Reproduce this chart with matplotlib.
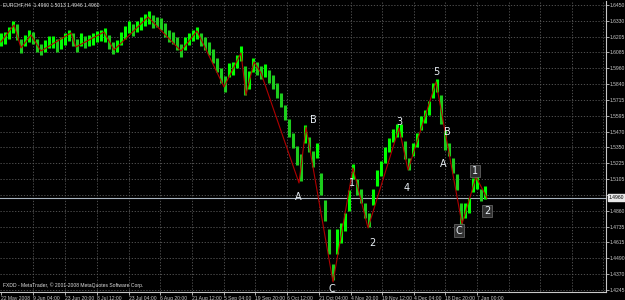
import matplotlib
matplotlib.use("Agg")
import matplotlib.pyplot as plt
import numpy as np

# ---- data (EURCHF H4, one bar group every 4 px) ----
highs = [1.623, 1.624, 1.628, 1.633, 1.630, 1.619, 1.622, 1.626, 1.624, 1.619,
         1.615, 1.618, 1.621, 1.621, 1.619, 1.620, 1.623, 1.626, 1.623, 1.619,
         1.623, 1.621, 1.622, 1.623, 1.625, 1.626, 1.627, 1.622, 1.616, 1.618,
         1.624, 1.629, 1.633, 1.630, 1.633, 1.636, 1.638, 1.640, 1.637, 1.636,
         1.635, 1.631, 1.626, 1.624, 1.620, 1.615, 1.620, 1.623, 1.626, 1.628,
         1.623, 1.620, 1.616, 1.611, 1.604, 1.596, 1.590, 1.600, 1.601, 1.606,
         1.613, 1.598, 1.594, 1.604, 1.601, 1.598, 1.599, 1.595, 1.591, 1.585,
         1.577, 1.568, 1.557, 1.546, 1.536, 1.530, 1.552, 1.543, 1.532, 1.538,
         1.515, 1.494, 1.472, 1.445, 1.472, 1.476, 1.484, 1.502, 1.522, 1.510,
         1.503, 1.492, 1.484, 1.503, 1.517, 1.524, 1.535, 1.542, 1.549, 1.553,
         1.553, 1.540, 1.527, 1.538, 1.546, 1.559, 1.564, 1.571, 1.585, 1.588,
         1.575, 1.548, 1.538, 1.527, 1.514, 1.492, 1.492, 1.496, 1.511, 1.513,
         1.503, 1.505]
lows = [1.613, 1.615, 1.619, 1.623, 1.618, 1.608, 1.613, 1.616, 1.615, 1.609,
        1.606, 1.609, 1.612, 1.612, 1.609, 1.611, 1.614, 1.617, 1.613, 1.609,
        1.613, 1.612, 1.613, 1.614, 1.616, 1.617, 1.616, 1.611, 1.607, 1.609,
        1.614, 1.619, 1.623, 1.621, 1.624, 1.626, 1.629, 1.630, 1.627, 1.628,
        1.626, 1.620, 1.616, 1.615, 1.610, 1.605, 1.610, 1.614, 1.617, 1.619,
        1.613, 1.610, 1.606, 1.600, 1.593, 1.585, 1.578, 1.589, 1.591, 1.596,
        1.602, 1.575, 1.580, 1.593, 1.591, 1.588, 1.589, 1.585, 1.580, 1.573,
        1.566, 1.556, 1.543, 1.534, 1.521, 1.509, 1.538, 1.531, 1.520, 1.527,
        1.498, 1.478, 1.452, 1.432, 1.452, 1.461, 1.470, 1.486, 1.510, 1.498,
        1.492, 1.480, 1.473, 1.490, 1.505, 1.513, 1.523, 1.531, 1.539, 1.543,
        1.543, 1.526, 1.517, 1.528, 1.535, 1.548, 1.554, 1.560, 1.573, 1.578,
        1.553, 1.533, 1.528, 1.515, 1.502, 1.475, 1.480, 1.484, 1.500, 1.503,
        1.493, 1.495]

# zigzag pivots (bar index, price)
zz_idx = [0, 3.25, 5, 7.5, 10, 17.5, 18.75, 25.75, 28.25, 36.75, 45, 49, 55.75,
          60, 61.25, 63.25, 65, 74.5, 76.25, 83, 88, 91.75, 99.5, 101.75,
          108.75, 115.25, 118.75, 121.5]
zz_price = [1.6164, 1.6296, 1.6118, 1.6218, 1.6094, 1.6234, 1.6125, 1.6241,
            1.6102, 1.6357, 1.6094, 1.6249, 1.5816, 1.6079, 1.5754, 1.6009,
            1.5924, 1.5073, 1.5506, 1.4307, 1.5189, 1.4725, 1.5499, 1.5174,
            1.5855, 1.4756, 1.5120, 1.4957]

# wave labels
wave_text = ["B", "A", "1", "2", "C", "3", "4", "5", "B", "A", "C", "1", "2"]
wave_idx = [78, 74.25, 87.75, 92.75, 82.75, 99.5, 101.5, 108.75, 111.5, 110.5,
            114.5, 118.5, 121.5]
wave_price = [1.5560, 1.4965, 1.5073, 1.4609, 1.4250, 1.5545, 1.5034, 1.5932,
              1.5468, 1.5220, 1.4702, 1.5166, 1.4856]
wave_boxed = [False] * 10 + [True, True, True]

price_ticks = [1.6450, 1.6330, 1.6205, 1.6085, 1.5960, 1.5840, 1.5715, 1.5595,
               1.5470, 1.5350, 1.5225, 1.5105, 1.4980, 1.4860, 1.4735, 1.4615,
               1.4490, 1.4370, 1.4245]
time_labels = ["22 May 2008", "9 Jun 04:00", "23 Jun 20:00", "8 Jul 12:00",
               "23 Jul 04:00", "6 Aug 20:00", "21 Aug 12:00", "5 Sep 04:00",
               "19 Sep 20:00", "6 Oct 12:00", "21 Oct 04:00", "4 Nov 20:00",
               "19 Nov 12:00", "4 Dec 04:00", "18 Dec 20:00", "7 Jan 00:00"]
time_pos = [0, 8, 16, 24, 32, 39.8, 47.8, 55.8, 63.6, 71.6, 79.6, 87.4, 95.3,
            103.2, 111.1, 119.0]
extra_grid = [126.9, 134.8, 142.7, 150.6]

symbol = "EURCHF,H4"
ohlc_text = "1.4960 1.5013 1.4946 1.4960"
last_price = 1.4960
footer = "FXDD - MetaTrader, \u00a9 2001-2008 MetaQuotes Software Corp."

FONT = "Liberation Sans"
FS = 3.6

# ---- figure ----
W, H = 625, 300
fig = plt.figure(figsize=(W / 100, H / 100), dpi=100, facecolor="black")
ax_left, ax_right_px, ax_top_px, ax_bot_px = 0, 606, 1, 292
ax = fig.add_axes([ax_left / W, (H - ax_bot_px) / H,
                   (ax_right_px - ax_left) / W, (ax_bot_px - ax_top_px) / H])
ax.set_facecolor("black")

ppx = 0.2205 / 285.0
y_top = 1.6450 + (5 - ax_top_px) * ppx
y_bot = 1.4245 - (ax_bot_px - 290) * ppx
ax.set_ylim(y_bot, y_top)
ax.set_xlim(-0.25, ax_right_px / 4 - 0.25)

grid_kw = dict(color="#5c5c5c", lw=0.6, ls=(0, (1.5, 2.0)), zorder=0)
for p in price_ticks:
    ax.axhline(p, **grid_kw)
for t in time_pos[1:] + extra_grid:
    ax.axvline(t, **grid_kw)

idx = np.arange(len(highs))
cols = []
for i in idx:
    prev = (highs[i - 1] + lows[i - 1]) / 2 if i > 0 else (highs[i] + lows[i]) / 2
    cur = (highs[i] + lows[i]) / 2
    cols.append("#00ff00" if cur >= prev else "#1ccc1c")
ax.vlines(idx, lows, highs, colors=cols, linewidth=2.2, zorder=2)

ax.plot(zz_idx, zz_price, color="#b00000", lw=0.8, zorder=3)

ax.axhline(last_price, color="#a9b4bf", lw=0.8, zorder=1)

for t, xi, yp, boxed in zip(wave_text, wave_idx, wave_price, wave_boxed):
    kw = dict(color="#e8eef4", fontsize=7, ha="center", va="center", zorder=5,
              family="DejaVu Sans")
    if boxed:
        kw["bbox"] = dict(boxstyle="square,pad=0.15", fc="#303030", ec="#707070", lw=0.5)
    ax.text(xi, yp, t, **kw)

# axes styling
for s in ["left", "top"]:
    ax.spines[s].set_visible(False)
for s in ["right", "bottom"]:
    ax.spines[s].set_color("#c8c8c8")
    ax.spines[s].set_linewidth(0.8)
ax.yaxis.tick_right()
ax.set_yticks(price_ticks)
ax.set_yticklabels(["" if abs(p - 1.4980) < 1e-6 else f"{p:.4f}" for p in price_ticks],
                   family=FONT)
ax.set_xticks(time_pos)
ax.set_xticklabels(time_labels, ha="left", family=FONT)
ax.tick_params(axis="y", colors="#c8c8c8", labelsize=FS, length=2, width=0.6, pad=0.8)
ax.tick_params(axis="x", colors="#c8c8c8", labelsize=FS, length=2, width=0.6, pad=0.8)

# current price tag
ax.text(1.0040, last_price, f"{last_price:.4f}", transform=ax.get_yaxis_transform(),
        fontsize=FS, color="black", va="center", ha="left", family=FONT,
        bbox=dict(boxstyle="square,pad=0.15", fc="#e8e8e8", ec="#e8e8e8"))

fig.text(3 / W, 1 - 5 / H, f"{symbol}  {ohlc_text}", color="#e0e0e0", fontsize=FS,
         va="center", ha="left", family=FONT)
fig.text(3 / W, 1 - 285 / H, footer, color="#e0e0e0", fontsize=FS,
         va="center", ha="left", family=FONT)

fig.savefig("out.png", dpi=100, facecolor="black")
